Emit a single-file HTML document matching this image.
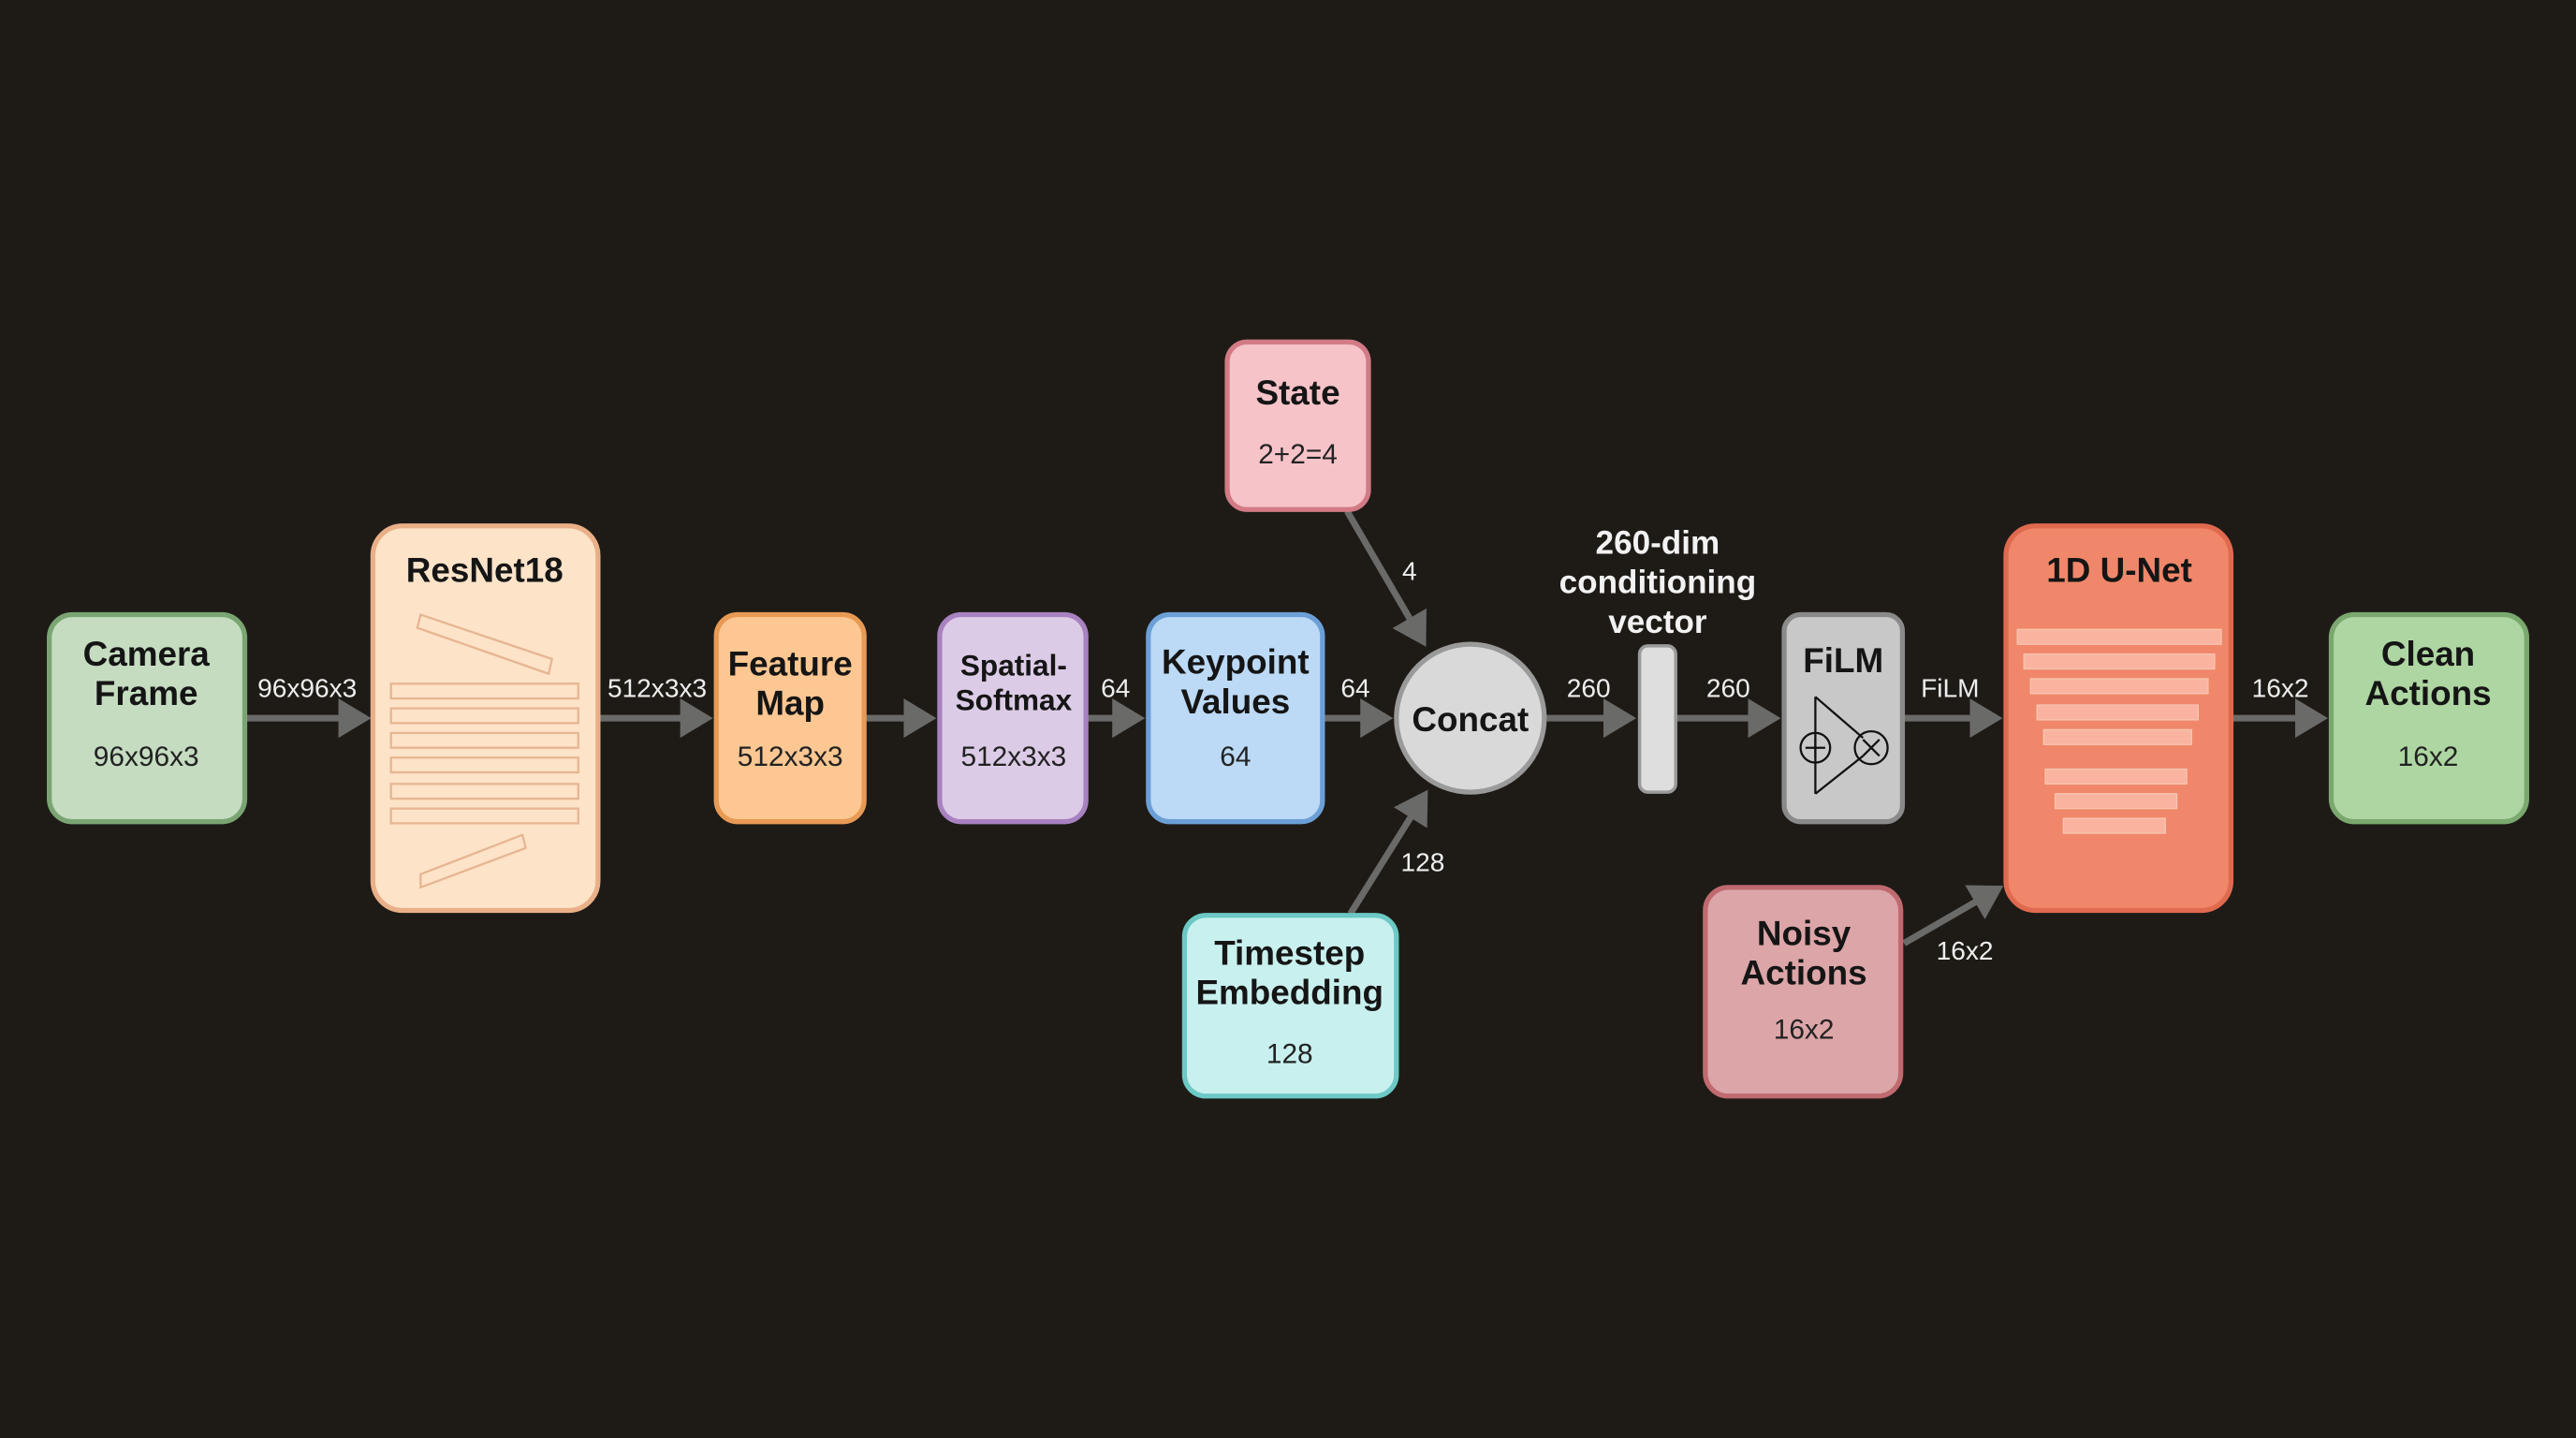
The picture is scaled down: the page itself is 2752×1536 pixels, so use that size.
<!DOCTYPE html>
<html><head><meta charset="utf-8"><style>
html,body{margin:0;padding:0;background:#1e1b17;}
svg{display:block}
text{font-family:"Liberation Sans",Arial,sans-serif;}
.t{font-weight:bold;font-size:21px;fill:#151515;text-anchor:middle}
.v{font-size:17px;fill:#222;text-anchor:middle}
.l{font-size:16px;fill:#eee;text-anchor:middle}
.a{stroke:#6a6a68;stroke-width:4;fill:none}
</style></head><body>
<svg width="2752" height="1536" viewBox="0 0 1568 875" xmlns="http://www.w3.org/2000/svg">
<defs>
<marker id="ah" markerWidth="6" markerHeight="6" refX="4" refY="3" orient="auto" markerUnits="strokeWidth">
<path d="M0,0 L5,3 L0,6 Z" fill="#6a6a68"/></marker>
</defs>
<rect width="1568" height="875" fill="#1e1b17"/>
<!-- arrows -->
<line class="a" x1="149" y1="437" x2="222" y2="437" marker-end="url(#ah)"/>
<line class="a" x1="364" y1="437" x2="430" y2="437" marker-end="url(#ah)"/>
<line class="a" x1="526" y1="437" x2="566" y2="437" marker-end="url(#ah)"/>
<line class="a" x1="661" y1="437" x2="693" y2="437" marker-end="url(#ah)"/>
<line class="a" x1="805" y1="437" x2="844" y2="437" marker-end="url(#ah)"/>
<line class="a" x1="940" y1="437" x2="992" y2="437" marker-end="url(#ah)"/>
<line class="a" x1="1020" y1="437" x2="1080" y2="437" marker-end="url(#ah)"/>
<line class="a" x1="1158" y1="437" x2="1215" y2="437" marker-end="url(#ah)"/>
<line class="a" x1="1358" y1="437" x2="1413" y2="437" marker-end="url(#ah)"/>
<line class="a" x1="820" y1="311" x2="866" y2="390" marker-end="url(#ah)"/>
<line class="a" x1="822" y1="556" x2="867" y2="484" marker-end="url(#ah)"/>
<line class="a" x1="1159" y1="574" x2="1216" y2="541" marker-end="url(#ah)"/>
<!-- edge labels -->
<text class="l" x="187" y="424">96x96x3</text>
<text class="l" x="400" y="424">512x3x3</text>
<text class="l" x="679" y="424">64</text>
<text class="l" x="825" y="424">64</text>
<text class="l" x="858" y="353">4</text>
<text class="l" x="866" y="530">128</text>
<text class="l" x="967" y="424">260</text>
<text class="l" x="1052" y="424">260</text>
<text class="l" x="1187" y="424">FiLM</text>
<text class="l" x="1388" y="424">16x2</text>
<text class="l" x="1196" y="584">16x2</text>
<text x="1009" y="337" style="font-weight:bold;font-size:20px;fill:#f2f2f2;text-anchor:middle">260-dim</text>
<text x="1009" y="361" style="font-weight:bold;font-size:20px;fill:#f2f2f2;text-anchor:middle">conditioning</text>
<text x="1009" y="385" style="font-weight:bold;font-size:20px;fill:#f2f2f2;text-anchor:middle">vector</text>
<!-- Camera -->
<rect x="30" y="374" width="119" height="126" rx="14" fill="#c5dcc0" stroke="#7aa573" stroke-width="3"/>
<text class="t" x="89" y="405">Camera</text><text class="t" x="89" y="429">Frame</text>
<text class="v" x="89" y="466">96x96x3</text>
<!-- ResNet -->
<rect x="227" y="320" width="137" height="234" rx="18" fill="#fde3c8" stroke="#e9b088" stroke-width="3"/>
<text class="t" x="295" y="354">ResNet18</text>
<g fill="none" stroke="#e7b592" stroke-width="1.3">
<polygon points="256,374 336,401 334,410 254,382"/>
<rect x="238" y="416" width="114" height="9"/><rect x="238" y="431" width="114" height="9"/>
<rect x="238" y="446" width="114" height="9"/><rect x="238" y="461" width="114" height="9"/>
<rect x="238" y="477" width="114" height="9"/><rect x="238" y="492" width="114" height="9"/>
<polygon points="256,532 318,508 320,516 256,540"/>
</g>
<!-- Feature Map -->
<rect x="436" y="374" width="90" height="126" rx="13" fill="#fcc792" stroke="#e89a55" stroke-width="3"/>
<text class="t" x="481" y="411">Feature</text><text class="t" x="481" y="435">Map</text>
<text class="v" x="481" y="466">512x3x3</text>
<!-- Spatial Softmax -->
<rect x="572" y="374" width="89" height="126" rx="13" fill="#dccbe6" stroke="#a882c0" stroke-width="3"/>
<text x="617" y="411" style="font-weight:bold;font-size:18px;fill:#151515;text-anchor:middle">Spatial-</text>
<text x="617" y="432" style="font-weight:bold;font-size:18px;fill:#151515;text-anchor:middle">Softmax</text>
<text class="v" x="617" y="466">512x3x3</text>
<!-- Keypoint -->
<rect x="699" y="374" width="106" height="126" rx="13" fill="#bcdaf5" stroke="#6c9fd6" stroke-width="3"/>
<text class="t" x="752" y="410">Keypoint</text><text class="t" x="752" y="434">Values</text>
<text class="v" x="752" y="466">64</text>
<!-- Concat -->
<circle cx="895" cy="437" r="45" fill="#d9d9d9" stroke="#9a9a9a" stroke-width="3"/>
<text class="t" x="895" y="445">Concat</text>
<!-- State -->
<rect x="747" y="208" width="86" height="102" rx="12" fill="#f5c3c8" stroke="#d27a85" stroke-width="3"/>
<text class="t" x="790" y="246">State</text><text class="v" x="790" y="282">2+2=4</text>
<!-- Timestep -->
<rect x="721" y="557" width="129" height="110" rx="13" fill="#c8f0ee" stroke="#6cc9c5" stroke-width="3"/>
<text class="t" x="785" y="587">Timestep</text><text class="t" x="785" y="611">Embedding</text>
<text class="v" x="785" y="647">128</text>
<!-- vector bar -->
<rect x="998" y="393" width="22" height="89" rx="5" fill="#dedede" stroke="#9a9a9a" stroke-width="2"/>
<!-- FiLM -->
<rect x="1086" y="374" width="72" height="126" rx="10" fill="#c8c8c8" stroke="#8a8a8a" stroke-width="3"/>
<text class="t" x="1122" y="409">FiLM</text>
<g stroke="#111" stroke-width="1.3" fill="none">
<line x1="1105" y1="424" x2="1105" y2="483"/>
<line x1="1105" y1="424" x2="1134" y2="449"/>
<line x1="1105" y1="483" x2="1134" y2="460"/>
<circle cx="1105" cy="455" r="9"/><line x1="1099" y1="455" x2="1111" y2="455"/><line x1="1105" y1="449" x2="1105" y2="461"/>
<circle cx="1139" cy="455" r="10"/><line x1="1134" y1="450" x2="1144" y2="460"/><line x1="1144" y1="450" x2="1134" y2="460"/>
</g>
<!-- UNet -->
<rect x="1221" y="320" width="137" height="234" rx="18" fill="#f0876a" stroke="#e06a50" stroke-width="3"/>
<text class="t" x="1290" y="354">1D U-Net</text>
<g fill="#f9b39e" stroke="#f7c4b0" stroke-width="0.8">
<rect x="1228" y="383" width="124" height="9"/><rect x="1232" y="398" width="116" height="9"/>
<rect x="1236" y="413" width="108" height="9"/><rect x="1240" y="429" width="98" height="9"/>
<rect x="1244" y="444" width="90" height="9"/><rect x="1245" y="468" width="86" height="9"/>
<rect x="1251" y="483" width="74" height="9"/><rect x="1256" y="498" width="62" height="9"/>
</g>
<!-- Noisy -->
<rect x="1038" y="540" width="119" height="127" rx="14" fill="#dca5a8" stroke="#c06a70" stroke-width="3"/>
<text class="t" x="1098" y="575">Noisy</text><text class="t" x="1098" y="599">Actions</text>
<text class="v" x="1098" y="632">16x2</text>
<!-- Clean -->
<rect x="1419" y="374" width="119" height="126" rx="14" fill="#aed6a2" stroke="#7aa86e" stroke-width="3"/>
<text class="t" x="1478" y="405">Clean</text><text class="t" x="1478" y="429">Actions</text>
<text class="v" x="1478" y="466">16x2</text>
</svg>
</body></html>
